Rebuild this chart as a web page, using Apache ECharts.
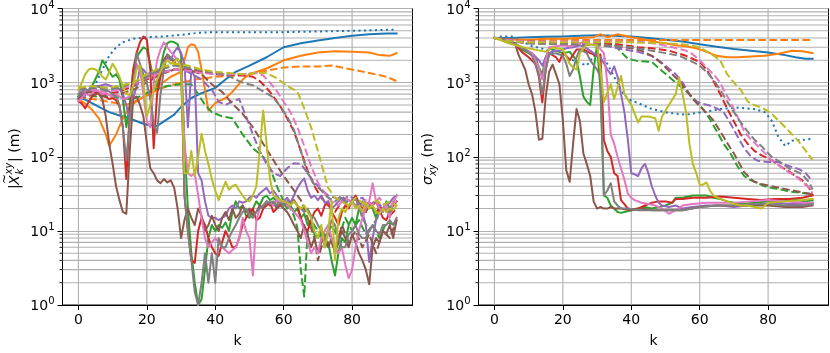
<!DOCTYPE html>
<html>
<head>
<meta charset="utf-8">
<title>|X_k| and sigma_xy vs k</title>
<script src="https://cdn.jsdelivr.net/npm/echarts@6/dist/echarts.min.js"></script>
<style>
  html, body { margin: 0; padding: 0; background: #fff; }
  #chart { width: 830px; height: 353px; }
</style>
</head>
<body>
<div id="chart"></div>
<script>
// ---- data: [k, value] ----
const kTicks = [0, 20, 40, 60, 80]
const minorValues = [2, 3, 4, 5, 6, 7, 8, 9, 20, 30, 40, 50, 60, 70, 80, 90,
  200, 300, 400, 500, 600, 700, 800, 900, 2000, 3000, 4000, 5000, 6000, 7000, 8000, 9000]

// left panel: |X_k^xy| (m)
const leftBlueSolid = [[0,650],[3,560],[6,470],[9,400],[12,360],[15,330],[18,290],[20,270],[23,260],[25,300],[28,370],[30,470],[33,620],[36,720],[40,850],[43,1100],[46,1400],[50,1700],[55,2200],[60,3000],[65,3400],[70,3700],[75,4000],[80,4300],[85,4500],[90,4600],[93,4600]]
const leftBlueDotted = [[0,700],[3,760],[5,950],[7,1500],[9,2300],[11,3000],[13,3500],[16,3900],[20,4100],[25,4200],[30,4400],[35,4700],[40,4800],[50,4800],[60,4800],[70,4900],[80,5000],[93,5200]]
const leftOrangeSolid = [[0,600],[2,520],[4,430],[6,330],[8,200],[9,140],[11,200],[13,330],[15,480],[18,600],[21,750],[24,950],[27,1200],[30,1400],[31,2000],[32,3000],[33,3300],[34,3200],[35,2600],[36,1500],[37,800],[38,420],[40,530],[43,620],[45,750],[48,1100],[50,1300],[55,1550],[60,2000],[65,2300],[70,2550],[75,2650],[80,2600],[85,2550],[88,2350],[91,2300],[93,2500]]
const leftOrangeDashed = [[0,650],[4,600],[8,560],[11,530],[14,500],[18,600],[22,750],[26,900],[30,1000],[34,1100],[40,1200],[45,1250],[50,1300],[55,1450],[60,1600],[65,1650],[70,1650],[74,1700],[80,1500],[85,1350],[90,1200],[93,1050]]

const leftGreenSolid = [[0,650],[2,700],[4,900],[6,1400],[7,2000],[8,1700],[9,1400],[10,1200],[11,1300],[12,1100],[13,600],[14,250],[15,500],[16,1400],[17,2200],[18,2600],[19,3000],[20,2800],[21,1800],[22,1100],[23,900],[24,1600],[25,2600],[26,3400],[27,3600],[28,3500],[29,3300],[30,2400],[31,150],[32,20],[33,5],[34,2],[35,1],[36,1.2],[37,3],[38,8],[39,12],[40,10],[41,12],[42,11],[43,13],[44,10],[45,18],[46,25],[47,20],[48,22],[49,16],[50,15],[51,20],[52,25],[53,22],[54,28],[55,30],[56,26],[57,28],[58,25],[59,22],[60,24],[61,20],[62,22],[63,18],[64,20],[65,15],[66,17],[67,12],[68,14],[69,9],[70,8],[71,10],[72,6],[73,7],[74,4],[75,2.5],[76,5],[77,8],[78,7],[79,12],[80,15],[81,12],[82,20],[83,25],[84,18],[85,22],[86,20],[87,15],[88,22],[89,18],[90,25],[91,20],[92,24],[93,30]]
const leftGreenDashed = [[0,700],[5,650],[10,650],[15,600],[18,650],[22,800],[26,900],[30,950],[33,950],[35,700],[37,500],[39,400],[42,350],[45,330],[48,200],[51,130],[54,100],[56,70],[58,40],[60,25],[62,20],[63,16],[64,11],[65,3],[66,1.3],[67,10],[68,14],[70,10],[72,7],[74,12],[76,8],[78,15],[80,10],[82,14],[84,9],[86,12],[88,8],[90,13],[93,12]]
const leftRedSolid = [[0,560],[1,520],[2,450],[3,550],[4,650],[5,700],[6,720],[7,680],[8,640],[9,600],[10,620],[11,580],[12,480],[13,250],[14,50],[15,400],[16,1500],[17,2500],[18,3500],[19,4200],[20,3800],[21,1500],[22,130],[23,700],[24,1200],[25,2000],[26,2400],[27,2100],[28,1900],[29,1700],[30,1900],[31,30],[32,10],[33,4],[34,3.7],[35,10],[36,15],[37,12],[38,8],[39,6],[40,5],[41,4.6],[42,7],[43,10],[44,8],[45,6],[46,6],[47,8],[48,12],[49,15],[50,18],[51,20],[52,14],[53,15],[54,20],[55,22],[56,24],[57,18],[58,20],[59,24],[60,22],[61,25],[62,24],[63,26],[64,22],[65,15],[66,11],[67,10],[68,14],[69,18],[70,20],[71,16],[72,22],[73,25],[74,18],[75,15],[76,12],[77,18],[78,22],[79,20],[80,26],[81,30],[82,24],[83,20],[84,18],[85,24],[86,22],[87,25],[88,19],[89,15],[90,14],[91,18],[92,22],[93,25]]
const leftRedDashed = [[0,700],[4,750],[8,700],[12,750],[16,900],[20,1100],[24,1300],[28,1500],[32,1500],[36,1400],[40,1300],[44,1250],[48,1250],[51,1200],[53,1050],[55,850],[57,650],[59,480],[61,330],[63,220],[65,120],[67,65],[69,40],[71,28],[73,22],[75,18],[77,25],[79,22],[81,28],[83,20],[85,25],[87,18],[89,22],[91,16],[93,20]]
const leftPurpleSolid = [[0,620],[2,750],[4,860],[6,900],[8,950],[10,880],[12,820],[13,700],[14,500],[15,320],[16,600],[17,900],[18,1600],[19,1500],[20,1300],[22,1400],[24,1500],[25,1900],[26,2200],[27,2000],[28,2600],[29,3000],[30,2500],[31,1800],[32,250],[33,1500],[34,1200],[35,60],[36,48],[37,25],[38,16],[39,15],[40,15],[41,14],[42,15],[43,16],[44,20],[45,22],[46,20],[47,25],[48,24],[49,25],[50,28],[51,30],[52,28],[53,32],[54,35],[55,38],[56,32],[57,35],[58,30],[59,26],[60,25],[61,28],[62,24],[63,30],[64,38],[65,45],[66,51],[67,35],[68,28],[69,30],[70,26],[71,30],[72,24],[73,25],[74,20],[75,22],[76,25],[77,28],[78,24],[79,26],[80,25],[81,22],[82,24],[83,18],[84,12],[85,3.8],[86,8],[87,14],[88,18],[89,20],[90,22],[91,24],[92,28],[93,30]]
const leftPurpleDashed = [[0,800],[4,900],[8,850],[12,900],[16,1000],[20,1200],[24,1400],[28,1500],[32,1400],[36,1100],[39,800],[41,550],[43,500],[45,560],[47,600],[49,350],[51,200],[53,120],[55,80],[57,60],[59,55],[61,70],[63,82],[65,80],[67,60],[69,45],[71,36],[73,30],[75,28],[77,25],[79,30],[81,26],[83,28],[85,22],[87,26],[89,20],[91,25],[93,24]]
const leftBrownSolid = [[0,600],[1,650],[2,700],[3,750],[4,800],[5,780],[6,700],[7,600],[8,350],[9,150],[10,80],[11,40],[12,26],[13,18],[14,17],[15,120],[16,600],[17,650],[18,500],[19,350],[20,150],[21,70],[22,60],[23,48],[24,44],[25,50],[26,45],[27,48],[28,38],[29,20],[30,8],[31,14],[32,20],[33,15],[34,12],[35,20],[36,16],[37,10],[38,12],[39,16],[40,12],[41,10],[42,15],[43,18],[44,14],[45,20],[46,15],[47,17],[48,22],[49,18],[50,20],[51,16],[52,18],[53,22],[54,20],[55,25],[56,22],[57,24],[58,20],[59,22],[60,20],[61,18],[62,15],[63,12],[64,10],[65,8],[66,12],[67,9],[68,6],[69,8],[70,5],[71,7],[72,9],[73,6],[74,8],[75,5],[76,7],[77,10],[78,8],[79,6],[80,9],[81,7],[82,5],[83,4],[84,3],[85,1.9],[86,6],[87,8],[88,7],[89,10],[90,9],[91,12],[92,8],[93,14]]
const leftBrownDashed = [[0,600],[4,700],[8,650],[12,700],[16,800],[20,1000],[24,1300],[28,1500],[32,1500],[36,1300],[39,950],[42,750],[45,520],[48,380],[51,250],[54,150],[57,90],[60,55],[63,35],[65,26],[67,15],[69,8],[70,4],[71,6],[73,10],[75,5],[77,12],[79,7],[81,10],[83,6],[85,9],[87,5],[89,10],[91,8],[93,14]]
const leftPinkSolid = [[0,560],[1,620],[2,700],[3,680],[4,720],[5,800],[6,760],[7,700],[8,720],[9,680],[10,650],[11,700],[12,650],[13,600],[14,620],[15,650],[16,900],[17,1800],[18,1500],[19,700],[20,300],[21,250],[22,1000],[23,2000],[24,2800],[25,3500],[26,3000],[27,2600],[28,2300],[29,2000],[30,1800],[31,150],[32,60],[33,55],[34,60],[35,30],[36,15],[37,8],[38,6],[39,7],[40,8],[41,7],[42,6],[43,5.5],[44,5],[45,5.5],[46,6],[47,8],[48,15],[49,10],[50,8],[51,2.5],[52,14],[53,20],[54,22],[55,25],[56,24],[57,22],[58,26],[59,24],[60,25],[61,22],[62,20],[63,18],[64,16],[65,14],[66,10],[67,7],[68,5],[69,6],[70,5],[71,8],[72,10],[73,12],[74,8],[75,6],[76,5],[77,6],[78,3.5],[79,2.3],[80,3],[81,6],[82,10],[83,15],[84,20],[85,25],[86,44],[87,25],[88,20],[89,18],[90,22],[91,15],[92,25],[93,30]]
const leftPinkDashed = [[0,750],[4,800],[8,750],[12,800],[16,950],[20,1150],[24,1350],[28,1500],[32,1450],[36,1350],[40,1300],[44,1300],[48,1300],[52,1350],[54,1250],[56,1000],[58,770],[60,550],[62,400],[64,250],[66,140],[68,75],[70,45],[72,32],[74,25],[76,22],[78,28],[80,24],[82,20],[84,26],[86,22],[88,28],[90,20],[93,25]]
const leftGraySolid = [[0,700],[1,750],[2,820],[3,780],[4,850],[5,900],[6,880],[7,820],[8,780],[9,760],[10,700],[11,650],[12,500],[13,250],[14,90],[15,300],[16,900],[17,2500],[18,1800],[19,1300],[20,1000],[21,600],[22,280],[23,210],[24,700],[25,1500],[26,2400],[27,2200],[28,2000],[29,2100],[30,1800],[31,30],[32,10],[33,4],[34,1.5],[35,1],[36,2],[37,5],[38,2],[39,5],[40,2],[41,8],[42,6],[43,6],[44,8],[45,10],[46,12],[47,15],[48,18],[49,20],[50,16],[51,15],[52,18],[53,20],[54,22],[55,25],[56,24],[57,25],[58,22],[59,24],[60,22],[61,25],[62,24],[63,25],[64,22],[65,20],[66,18],[67,20],[68,16],[69,15],[70,12],[71,10],[72,8],[73,10],[74,14],[75,12],[76,8],[77,6],[78,6],[79,9],[80,10],[81,12],[82,9],[83,8],[84,8],[85,10],[86,12],[87,10],[88,9],[89,12],[90,12],[91,14],[92,12],[93,15]]
const leftGrayDashed = [[0,800],[4,850],[8,800],[12,850],[16,1000],[20,1200],[24,1500],[28,1700],[32,1600],[36,1450],[40,1350],[43,1300],[46,1100],[48,1000],[51,920],[54,760],[57,630],[59,480],[61,350],[63,230],[65,120],[67,60],[69,42],[71,35],[73,28],[75,25],[77,30],[79,22],[81,28],[83,15],[85,10],[87,14],[89,20],[91,18],[93,22]]
const leftOliveSolid = [[0,800],[1,1000],[2,1300],[3,1500],[4,1550],[5,1500],[6,1400],[7,1200],[8,1100],[9,1400],[10,1800],[11,1500],[12,1200],[13,900],[14,700],[15,680],[16,900],[17,1500],[18,1700],[19,1000],[20,350],[21,500],[22,800],[23,1100],[24,1400],[25,1800],[26,2000],[27,1800],[28,1900],[29,2100],[30,1600],[31,60],[32,60],[33,120],[34,55],[35,100],[36,205],[37,120],[38,80],[39,50],[40,35],[41,26],[42,35],[43,46],[44,36],[45,40],[46,42],[47,35],[48,30],[49,26],[50,25],[51,30],[52,40],[53,120],[54,420],[55,150],[56,50],[57,30],[58,28],[59,26],[60,25],[61,24],[62,22],[63,25],[64,22],[65,20],[66,22],[67,18],[68,15],[69,10],[70,8],[71,12],[72,6],[73,10],[74,25],[75,4],[76,15],[77,20],[78,18],[79,22],[80,25],[81,20],[82,22],[83,18],[84,24],[85,20],[86,22],[87,18],[88,17],[89,20],[90,18],[91,20],[92,19],[93,22]]
const leftOliveDashed = [[0,850],[4,900],[8,850],[12,900],[16,1000],[20,1300],[24,1600],[28,1800],[32,1700],[36,1500],[40,1400],[44,1350],[48,1300],[52,1350],[55,1340],[58,1150],[61,900],[64,760],[66,450],[68,250],[70,120],[72,55],[73,38],[75,28],[77,25],[79,22],[81,28],[83,24],[85,20],[87,26],[89,22],[91,25],[93,22]]

// right panel: sigma_xy (m)
const rightBlueSolid = [[0,4000],[5,4000],[10,4100],[15,4150],[20,4200],[25,4300],[30,4350],[35,4300],[40,4200],[45,4000],[50,3800],[55,3600],[60,3300],[65,3050],[70,2850],[75,2700],[80,2550],[85,2350],[88,2200],[91,2100],[93,2100]]
const rightBlueDotted = [[0,4000],[2,4200],[5,4200],[8,3600],[11,3100],[15,2800],[19,2400],[23,2000],[27,1700],[29,2300],[32,2200],[35,1200],[37,800],[39,600],[42,530],[46,440],[51,390],[56,370],[61,400],[66,440],[71,460],[76,440],[79,400],[81,310],[83,185],[85,140],[87,165],[91,170],[93,175]]
const rightOrangeSolid = [[0,4000],[5,3800],[10,3800],[15,3900],[20,3900],[25,4000],[29,4100],[31,4500],[33,4100],[36,4500],[38,4300],[40,4100],[43,3900],[46,3600],[50,3400],[53,3200],[56,3100],[59,2900],[61,2700],[63,2500],[65,2300],[68,2200],[71,2200],[75,2250],[79,2300],[83,2450],[87,2700],[90,2650],[93,2500]]
const rightOrangeDashed = [[0,4000],[3,3800],[10,3750],[20,3750],[30,3750],[40,3750],[50,3750],[60,3750],[70,3750],[80,3750],[93,3750]]

const rightGreenSolid = [[0,4000],[3,3800],[6,3400],[8,2800],[10,2500],[12,2200],[13,1600],[14,1300],[15,2200],[16,2900],[18,2700],[20,2500],[22,2600],[24,2000],[25,1200],[26,650],[27,550],[28,500],[29,1500],[30,3200],[31,800],[32,30],[33,28],[34,22],[35,20],[36,18],[37,17.5],[38,18],[40,19],[42,20],[44,21],[46,20],[48,21],[50,22],[52,24],[53,28],[55,28],[58,30],[60,30],[62,30],[64,28],[66,27],[68,25],[70,24],[73,23],[76,24],[80,25],[84,25],[88,26],[91,25],[93,26]]
const rightGreenDashed = [[0,4000],[5,3600],[10,3500],[20,3500],[30,3500],[35,3300],[37,2600],[39,2100],[42,1950],[46,1900],[49,1440],[51,1200],[53,1000],[55,850],[57,700],[59,560],[61,440],[63,320],[65,220],[67,150],[69,111],[71,75],[73,55],[75,48],[77,44],[79,40],[81,38],[84,36],[86,34],[89,33],[91,32],[93,32]]
const rightRedSolid = [[0,4000],[3,3700],[6,3300],[8,2600],[10,2200],[12,1800],[13,1200],[14,540],[15,1500],[16,2500],[18,2200],[19,1900],[20,2500],[21,2300],[22,2000],[24,2800],[26,2800],[28,2500],[30,2300],[31,2400],[32,167],[33,120],[34,100],[35,60],[36,55],[37,26],[38,23],[39,20],[40,19.5],[42,20],[44,22],[46,24],[48,25],[50,25],[52,24],[53,27],[55,27],[58,28],[62,28],[66,29],[70,28],[74,27],[78,26],[82,27],[86,27],[90,28],[93,30]]
const rightRedDashed = [[0,4000],[5,3700],[10,3600],[20,3500],[30,3400],[36,3300],[42,3000],[46,2900],[51,2700],[56,2300],[60,1900],[62,1500],[64,1050],[66,700],[68,450],[70,300],[72,200],[74,150],[76,120],[78,105],[81,90],[84,72],[86,64],[88,55],[90,48],[92,38],[93,30]]
const rightPurpleSolid = [[0,4000],[3,3800],[6,3400],[9,2800],[11,2500],[13,2000],[14,1700],[15,2200],[17,2700],[19,2700],[21,2900],[23,3000],[25,3200],[27,2900],[29,2500],[31,2200],[33,1500],[34,1300],[35,1660],[36,1200],[37,700],[38,400],[39,170],[40,60],[41,58],[42,55],[43,70],[44,80],[45,60],[46,40],[47,30],[48,24],[49,22],[51,21],[53,22],[55,20],[58,21],[62,22],[66,22],[70,21],[74,22],[78,23],[82,24],[86,23],[90,23],[93,24]]
const rightPurpleDashed = [[0,4000],[10,3500],[20,3400],[30,3300],[36,2900],[42,2600],[46,2300],[48,2000],[50,1700],[53,1300],[55,1000],[57,700],[59,560],[61,515],[63,490],[65,450],[67,400],[69,280],[71,190],[73,130],[75,100],[77,88],[80,85],[83,85],[86,75],[89,68],[91,60],[93,46]]
const rightBrownSolid = [[0,4000],[3,3800],[6,3400],[7,2400],[9,1500],[10,950],[11,700],[12,400],[13,170],[14,175],[15,650],[16,1400],[17,1750],[18,1300],[19,950],[20,310],[21,66],[22,46],[23,150],[24,440],[25,300],[26,111],[27,80],[28,55],[29,25],[30,20],[31,21],[32,20],[33,20],[34,21],[35,20],[37,20],[40,19],[43,20],[46,19],[50,19],[55,19],[60,21],[65,22],[70,22],[75,22],[80,22],[85,21],[90,21],[93,22]]
const rightBrownDashed = [[0,4000],[5,3600],[10,3400],[20,3300],[30,3200],[36,3100],[40,2900],[43,2700],[46,2300],[49,1800],[51,1440],[54,1050],[56,800],[58,600],[60,480],[62,390],[64,310],[66,220],[67,185],[69,130],[70,111],[72,75],[73,62],[75,50],[76,46],[78,43],[81,40],[86,36],[90,33],[93,31]]
const rightPinkSolid = [[0,4000],[3,3700],[6,3300],[9,2800],[11,2500],[13,1600],[14,1100],[15,2000],[16,3000],[18,3100],[20,3200],[22,3100],[24,3300],[26,3500],[28,3300],[30,3200],[32,2500],[33,1000],[34,200],[35,150],[36,100],[37,70],[38,49],[39,32],[40,28],[41,26],[43,24],[45,23],[47,22],[49,20],[51,17],[53,19],[55,22],[58,23],[62,24],[66,24],[70,24],[75,25],[80,26],[85,25],[90,24],[93,24]]
const rightPinkDashed = [[0,4000],[5,3700],[10,3600],[20,3600],[30,3600],[40,3550],[44,3500],[48,3300],[52,3000],[56,2700],[58,2400],[60,2000],[62,1600],[64,1300],[66,1000],[67,800],[69,550],[70,440],[72,280],[73,220],[75,170],[76,155],[78,125],[81,90],[84,72],[86,62],[88,55],[90,46],[92,38],[93,32]]
const rightGraySolid = [[0,4000],[3,3700],[6,3300],[9,2800],[11,2300],[13,1300],[14,700],[15,1500],[16,2400],[18,2500],[20,2300],[21,1800],[22,1230],[23,1500],[24,2200],[25,2800],[27,2500],[28,2000],[30,1500],[31,1200],[32,30],[33,35],[34,44],[35,25],[36,22],[37,20],[39,20],[42,19],[45,19],[50,19],[55,19],[60,21],[65,22],[70,22],[75,23],[80,23],[85,22],[90,22],[93,23]]
const rightGrayDashed = [[0,4000],[5,3600],[10,3400],[20,3300],[30,3200],[36,3100],[40,3000],[46,2700],[50,2500],[54,2300],[57,2000],[60,1700],[62,1400],[64,1100],[66,800],[68,560],[70,400],[72,290],[74,220],[76,170],[78,140],[81,100],[84,82],[86,70],[88,64],[90,58],[92,45],[93,36]]
const rightOliveSolid = [[0,4000],[5,3300],[10,2900],[15,2600],[17,3000],[20,2800],[22,1800],[23,1600],[24,1500],[25,2500],[27,3300],[30,3200],[31,1500],[32,550],[34,950],[35,600],[37,1230],[38,700],[40,500],[42,290],[43,350],[45,350],[47,330],[48,225],[49,350],[51,500],[53,700],[54,1170],[55,700],[56,400],[57,150],[58,80],[59,60],[60,42],[61,42],[62,45],[63,35],[64,30],[66,27],[68,25],[70,23],[72,22],[74,22],[76,21],[78,20],[80,24],[85,25],[90,26],[93,27]]
const rightOliveDashed = [[0,4000],[5,3600],[10,3500],[20,3500],[30,3500],[40,3500],[50,3400],[55,3300],[60,3000],[63,2500],[66,2000],[68,1300],[70,1000],[72,800],[74,560],[75,515],[77,480],[79,440],[81,380],[83,310],[85,250],[87,200],[89,160],[91,120],[93,90]]

// ---- styling ----
const palette = {
  blue: '#1f77b4', orange: '#ff7f0e', green: '#2ca02c', red: '#d62728', purple: '#9467bd',
  brown: '#8c564b', pink: '#e377c2', gray: '#7f7f7f', olive: '#bcbd22'
}
const dashes = { solid: 'solid', dashed: [7.7, 3.3], dotted: [2.1, 3.4] }
const FONT = '"DejaVu Sans", sans-serif'
const X_MIN = -4.65, X_MAX = 97.65
const GRID_GREY = '#b0b0b0'

const leftLines = [
  [leftBlueSolid, 'blue', 'solid'], [leftBlueDotted, 'blue', 'dotted'],
  [leftOrangeSolid, 'orange', 'solid'], [leftOrangeDashed, 'orange', 'dashed'],
  [leftGreenSolid, 'green', 'solid'], [leftGreenDashed, 'green', 'dashed'],
  [leftRedSolid, 'red', 'solid'], [leftRedDashed, 'red', 'dashed'],
  [leftPurpleSolid, 'purple', 'solid'], [leftPurpleDashed, 'purple', 'dashed'],
  [leftBrownSolid, 'brown', 'solid'], [leftBrownDashed, 'brown', 'dashed'],
  [leftPinkSolid, 'pink', 'solid'], [leftPinkDashed, 'pink', 'dashed'],
  [leftGraySolid, 'gray', 'solid'], [leftGrayDashed, 'gray', 'dashed'],
  [leftOliveSolid, 'olive', 'solid'], [leftOliveDashed, 'olive', 'dashed']
]
const rightLines = [
  [rightBlueSolid, 'blue', 'solid'], [rightBlueDotted, 'blue', 'dotted'],
  [rightOrangeSolid, 'orange', 'solid'], [rightOrangeDashed, 'orange', 'dashed'],
  [rightGreenSolid, 'green', 'solid'], [rightGreenDashed, 'green', 'dashed'],
  [rightRedSolid, 'red', 'solid'], [rightRedDashed, 'red', 'dashed'],
  [rightPurpleSolid, 'purple', 'solid'], [rightPurpleDashed, 'purple', 'dashed'],
  [rightBrownSolid, 'brown', 'solid'], [rightBrownDashed, 'brown', 'dashed'],
  [rightPinkSolid, 'pink', 'solid'], [rightPinkDashed, 'pink', 'dashed'],
  [rightGraySolid, 'gray', 'solid'], [rightGrayDashed, 'gray', 'dashed'],
  [rightOliveSolid, 'olive', 'solid'], [rightOliveDashed, 'olive', 'dashed']
]

function lineSeries(idx, [data, color, style]) {
  return {
    type: 'line', xAxisIndex: idx, yAxisIndex: idx, data,
    symbol: 'none', showSymbol: false, silent: true, z: 3,
    lineStyle: { color: palette[color], width: 2, type: dashes[style], cap: style === 'solid' ? 'square' : 'butt', join: 'round' }
  }
}

// minor log grid lines + minor ticks (2..9 of each decade)
function minorGrid(idx) {
  return {
    type: 'custom', xAxisIndex: idx, yAxisIndex: idx, silent: true, z: 1, clip: false,
    data: minorValues.map(v => [X_MIN, v]),
    renderItem: (params, api) => {
      const a = api.coord([X_MIN, api.value(1)])
      const b = api.coord([X_MAX, api.value(1)])
      return {
        type: 'group', children: [
          { type: 'line', shape: { x1: a[0], y1: a[1], x2: b[0], y2: b[1] }, style: { stroke: GRID_GREY, lineWidth: 1.1 } },
          { type: 'line', shape: { x1: a[0] - 3, y1: a[1], x2: a[0], y2: a[1] }, style: { stroke: '#000', lineWidth: 0.9 } }
        ]
      }
    }
  }
}

// vertical grid lines at the k ticks
function kGrid(idx) {
  return {
    type: 'custom', xAxisIndex: idx, yAxisIndex: idx, silent: true, z: 1, clip: false,
    data: kTicks.map(k => [k, 1]),
    renderItem: (params, api) => {
      const a = api.coord([api.value(0), 1])
      const b = api.coord([api.value(0), 10000])
      return { type: 'line', shape: { x1: a[0], y1: a[1], x2: b[0], y2: b[1] }, style: { stroke: GRID_GREY, lineWidth: 1.1 } }
    }
  }
}

function xAxis(idx) {
  return {
    type: 'value', gridIndex: idx, min: X_MIN, max: X_MAX, splitNumber: 5,
    name: 'k', nameLocation: 'middle', nameGap: 29,
    nameTextStyle: { fontFamily: FONT, fontSize: 14, color: '#000' },
    axisLine: { onZero: false, lineStyle: { color: '#000', width: 1 } },
    axisTick: { length: 5, customValues: kTicks, lineStyle: { color: '#000', width: 1 } },
    axisLabel: { customValues: kTicks, margin: 8, fontFamily: FONT, fontSize: 14, color: '#000' },
    splitLine: { show: false }
  }
}

function yAxis(idx) {
  return {
    type: 'log', logBase: 10, gridIndex: idx, min: 1, max: 10000, position: 'left', offset: 0,
    axisLine: { show: false, onZero: false },
    axisTick: { show: true, length: 5, lineStyle: { color: '#000', width: 1 } },
    splitLine: { show: true, lineStyle: { color: GRID_GREY, width: 1.1 } },
    axisLabel: {
      margin: 8, color: '#000',
      formatter: v => '{b|10}{s|' + Math.round(Math.log10(v)) + '}',
      rich: {
        b: { fontFamily: FONT, fontSize: 14, color: '#000', verticalAlign: 'bottom', lineHeight: 14 },
        s: { fontFamily: FONT, fontSize: 10, color: '#000', verticalAlign: 'bottom', padding: [0, 0, 7, 0] }
      }
    }
  }
}

function txt(x, y, text, size, italic) {
  return {
    type: 'text', x, y,
    style: { text, font: (italic ? 'italic ' : '') + size + 'px ' + FONT, fill: '#000', align: 'left', verticalAlign: 'middle' }
  }
}

const chart = echarts.init(document.getElementById('chart'))
chart.setOption({
  animation: false,
  backgroundColor: '#fff',
  grid: [
    { left: 62.5, top: 7, width: 350, height: 300, show: true, borderColor: '#000', borderWidth: 1, backgroundColor: 'transparent' },
    { left: 478.5, top: 7, width: 350, height: 300, show: true, borderColor: '#000', borderWidth: 1, backgroundColor: 'transparent' }
  ],
  xAxis: [xAxis(0), xAxis(1)],
  yAxis: [yAxis(0), yAxis(1)],
  graphic: [
    {
      type: 'group', x: 15, y: 157, rotation: Math.PI / 2,
      children: [
        txt(-32, 0, '|', 14, false),
        txt(-28, 0, 'X', 14, true),
        txt(-27, -10, '~', 12, false),
        txt(-17.5, -6, 'xy', 10, true),
        txt(-17.5, 5, 'k', 10, true),
        txt(-5, 0, '| (m)', 14, false)
      ]
    },
    {
      type: 'group', x: 428, y: 158, rotation: Math.PI / 2,
      children: [
        txt(-27, 0, 'σ', 14, true),
        txt(-18, 5, 'xy', 10, true),
        txt(-17.5, -2, '~', 11, false),
        txt(-4, 0, ' (m)', 14, false)
      ]
    }
  ],
  series: [
    minorGrid(0), minorGrid(1), kGrid(0), kGrid(1),
    ...leftLines.map(l => lineSeries(0, l)),
    ...rightLines.map(l => lineSeries(1, l))
  ]
})
</script>
</body>
</html>
